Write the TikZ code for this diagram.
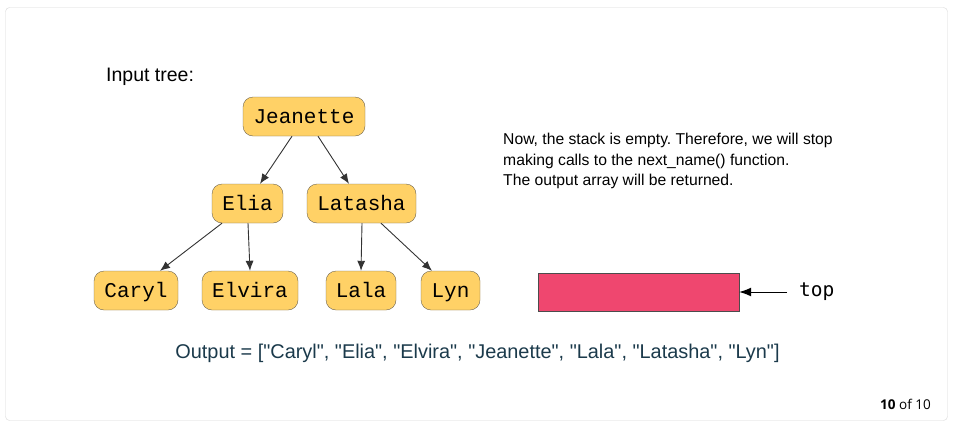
\documentclass[tikz,border=0pt]{standalone}
\usepackage{fontspec}
\setmainfont{Liberation Sans}[Ligatures=TeXOff]
\setmonofont{Liberation Mono}
\newfontfamily\topfont{DejaVu Sans Mono}
\newfontfamily\pagefont{Open Sans}
\usepackage{xcolor}
\usetikzlibrary{arrows.meta}

\definecolor{nodefill}{RGB}{255,209,102}
\definecolor{nodeline}{RGB}{110,100,80}
\definecolor{stackred}{RGB}{239,71,111}
\definecolor{outtext}{RGB}{27,58,75}
\definecolor{framegray}{RGB}{214,214,214}

\begin{document}
\frenchspacing
\begin{tikzpicture}[x=1pt, y=-1pt,
  namebox/.style={draw=nodeline, fill=nodefill, rounded corners=10pt, minimum height=39pt,
    inner sep=0pt, text height=16pt, text depth=3pt, font=\ttfamily\fontsize{21}{24}\selectfont},
  edge/.style={draw=black!80, line width=0.9pt, -{Latex[length=10pt, width=8pt]}}]
                    % Frame
                    \useasboundingbox (0,0) rectangle (953,426);
                    \draw[framegray, rounded corners=4pt] (5.5,7.5) rectangle (947.5,420.5);

                    % Tree nodes
                    \node[namebox, minimum width=122pt] (jeanette) at (304,116.5) {Jeanette};
                    \node[namebox, minimum width=71pt] (elia) at (247.5,203.5) {Elia};
                    \node[namebox, minimum width=109pt] (latasha) at (361.5,203.5) {Latasha};
                    \node[namebox, minimum width=84pt] (caryl) at (136,290.5) {Caryl};
                    \node[namebox, minimum width=96pt] (elvira) at (250,290.5) {Elvira};
                    \node[namebox, minimum width=70pt] (lala) at (361,290.5) {Lala};
                    \node[namebox, minimum width=59pt] (lyn) at (450.5,290.5) {Lyn};

                    % Edges
                    \draw[edge] ([xshift=-12pt]jeanette.south) -- ([xshift=12.5pt]elia.north);
                    \draw[edge] ([xshift=14pt]jeanette.south) -- ([xshift=-12.5pt]latasha.north);
                    \draw[edge] ([xshift=-25.5pt]elia.south) -- ([xshift=24pt]caryl.north);
                    \draw[edge] ([xshift=0.5pt]elia.south) -- (elvira.north);
                    \draw[edge] ([xshift=0.5pt]latasha.south) -- (lala.north);
                    \draw[edge] ([xshift=19.5pt]latasha.south) -- ([xshift=-18.5pt]lyn.north);

                    % Texts
                    \node[anchor=west, inner sep=0pt, font=\fontsize{19.5}{22}\selectfont] (title) at (106,77) {Input tree:};
                    \node[anchor=north west, inner sep=0pt, align=left, font=\fontsize{15.7}{20.5}\selectfont] (note) at (503,133)
                      {Now, the stack is empty. Therefore, we will stop\\making calls to the next\_name() function.\\The output array will be returned.};

                    % Stack
                    \node[draw=black!70, fill=stackred, minimum width=201pt, minimum height=38pt, inner sep=0pt] (stack) at (638.5,292) {};
                    \node[anchor=west, inner sep=0pt, font=\topfont\fontsize{19.5}{22}\selectfont] (top) at (799,292) {top};
                    \draw[line width=1pt, -{Latex[length=12pt, width=9pt]}] ([xshift=-12pt]top.west) -- (stack.east);

                    % Output
                    \node[inner sep=0pt, text=outtext, font=\fontsize{19.9}{22}\selectfont] (output) at (477.5,353)
                      {Output = ["Caryl", "Elia", "Elvira", "Jeanette", "Lala", "Latasha", "Lyn"]};

                    % Page count
                    \node[anchor=east, inner sep=0pt, font=\pagefont\fontsize{13.5}{16}\selectfont] (page) at (931,404) {\textbf{10} of 10};
                \end{tikzpicture}
\end{document}
